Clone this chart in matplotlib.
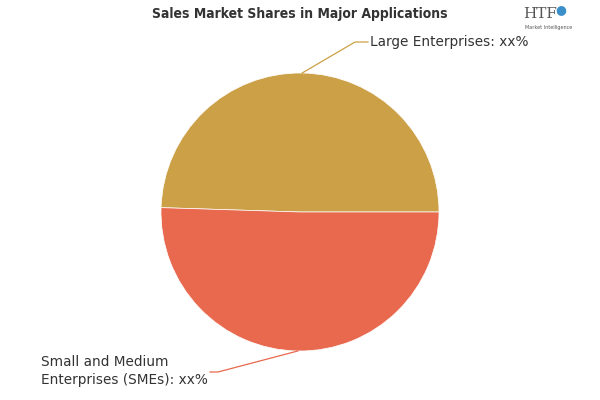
import matplotlib
matplotlib.use("Agg")
import matplotlib.pyplot as plt
import numpy as np

categories = ["Large Enterprises", "Small and Medium\nEnterprises (SMEs)"]
values = [49.5, 50.5]
labels = ["Large Enterprises: xx%", "Small and Medium\nEnterprises (SMEs): xx%"]
colors = ["#CBA046", "#E8694E"]

fig = plt.figure(figsize=(6, 4), dpi=100)
ax = fig.add_axes([0, 0, 1, 1])

cx, cy, r = 300, 188, 139
wedges, _ = ax.pie(values, colors=colors, startangle=0, counterclock=True,
                   center=(cx, cy), radius=r,
                   wedgeprops=dict(edgecolor="white", linewidth=0.5))
ax.set_xlim(0, 600)
ax.set_ylim(0, 400)
ax.set_aspect("equal")
ax.axis("off")

# Label connectors
for i, w in enumerate(wedges):
    ang = np.deg2rad((w.theta1 + w.theta2) / 2)
    px, py = cx + r * np.cos(ang), cy + r * np.sin(ang)
    if i == 0:
        ex, ey = 355, 358
        hx = 368
        ax.plot([px, ex, hx], [py, ey, ey], color=colors[i], lw=0.9)
        ax.text(hx + 2, ey, labels[i], ha="left", va="center", fontsize=9.8, color="#333333")
    else:
        ex, ey = 218, 28
        hx = 210
        ax.plot([px, ex, hx], [py, ey, ey], color=colors[i], lw=0.9)
        ax.text(hx - 2, ey + 1, labels[i], ha="right", va="center", fontsize=9.8,
                color="#333333", multialignment="left", linespacing=1.3)

fig.text(0.5, 0.965, "Sales Market Shares in Major Applications", ha="center", va="center",
         fontsize=10, fontweight="heavy", color="#333333", fontstretch="condensed")

# Logo approximation
fig.text(0.9, 0.965, "HTF", ha="center", va="center", fontsize=11, family="DejaVu Serif", color="#555555")
fig.text(0.935, 0.975, "\u25CF", ha="center", va="center", fontsize=9, color="#3A8FC9")
fig.text(0.915, 0.932, "Market Intelligence", ha="center", va="center", fontsize=3.5, color="#555555")

fig.savefig("out.png", dpi=100)
